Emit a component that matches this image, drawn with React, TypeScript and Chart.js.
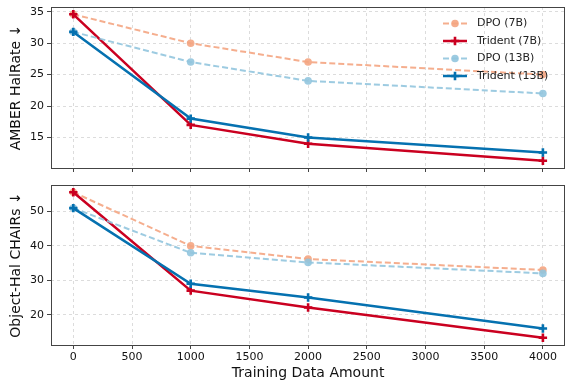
import React, { useEffect, useRef } from 'react';
import { Chart, registerables } from 'chart.js';

Chart.register(...registerables);

const xValues = [0, 1000, 2000, 4000];
const xTicks = [0, 500, 1000, 1500, 2000, 2500, 3000, 3500, 4000];

const seriesLabels = ['DPO (7B)', 'Trident (7B)', 'DPO (13B)', 'Trident (13B)'];

const amberDpo7 = [34.6, 30, 27, 25];
const amberTrident7 = [34.6, 17, 14, 11.3];
const amberDpo13 = [31.8, 27, 24, 22];
const amberTrident13 = [31.8, 18, 15, 12.6];
const amberTicks = [15, 20, 25, 30, 35];

const chairDpo7 = [55.6, 40, 36.2, 33];
const chairTrident7 = [55.6, 27, 22.1, 13.3];
const chairDpo13 = [51, 38, 35.2, 32];
const chairTrident13 = [51, 29, 25, 16];
const chairTicks = [20, 30, 40, 50];

const FONT = 'DejaVu Sans';
const colors = ['rgba(244,165,130,0.9)', '#ca0020', 'rgba(146,197,222,0.9)', '#0571b0'];
const dashed = [true, false, true, false];

function mkDatasets(series: number[][]) {
  return series.map((vals, i) => ({
    label: seriesLabels[i],
    data: xValues.map((x, j) => ({ x, y: vals[j] })),
    borderColor: colors[i],
    backgroundColor: colors[i],
    borderWidth: dashed[i] ? 2 : 2.5,
    borderDash: dashed[i] ? [6, 3] : [],
    pointStyle: dashed[i] ? 'circle' : 'cross',
    pointRadius: dashed[i] ? 3.8 : 4.2,
    pointBorderWidth: dashed[i] ? 0 : 2.6,
    pointBackgroundColor: colors[i],
    pointBorderColor: colors[i],
    order: 3 - i,
    tension: 0,
    fill: false,
  }));
}

const framePlugin = {
  id: 'frame',
  afterDraw(chart: any) {
    const { ctx, chartArea: a } = chart;
    ctx.save();
    ctx.strokeStyle = '#444';
    ctx.lineWidth = 1;
    ctx.setLineDash([]);
    ctx.strokeRect(Math.round(a.left) + 0.5, Math.round(a.top) + 0.5, Math.round(a.right - a.left) - 1, Math.round(a.bottom - a.top));
    ctx.restore();
  },
};

const legendPlugin = {
  id: 'customLegend',
  afterDraw(chart: any) {
    const { ctx } = chart;
    ctx.save();
    const x0 = 443, x1 = 467, mx = 455, tx = 477;
    const ys = [23.5, 41, 58.5, 76];
    seriesLabels.forEach((lab, i) => {
      const y = ys[i];
      ctx.strokeStyle = colors[i];
      ctx.lineWidth = dashed[i] ? 2 : 2.5;
      ctx.setLineDash(dashed[i] ? [6, 3] : []);
      ctx.beginPath();
      ctx.moveTo(x0, y);
      ctx.lineTo(x1, y);
      ctx.stroke();
      ctx.setLineDash([]);
      ctx.fillStyle = colors[i];
      if (dashed[i]) {
        ctx.beginPath();
        ctx.arc(mx, y, 3.8, 0, Math.PI * 2);
        ctx.fill();
      } else {
        ctx.lineWidth = 2.6;
        ctx.beginPath();
        ctx.moveTo(mx - 4.2, y);
        ctx.lineTo(mx + 4.2, y);
        ctx.moveTo(mx, y - 4.2);
        ctx.lineTo(mx, y + 4.2);
        ctx.stroke();
      }
      ctx.fillStyle = '#222';
      ctx.font = `11px "${FONT}"`;
      ctx.textBaseline = 'middle';
      ctx.textAlign = 'left';
      ctx.fillText(lab, tx, y);
    });
    ctx.restore();
  },
};

function zeroPad(s: any) {
  s.paddingLeft = 0; s.paddingRight = 0; s.paddingTop = 0; s.paddingBottom = 0;
}

function makeConfig(series: number[][], yMin: number, yMax: number, yTicks: number[], yTitle: string, showX: boolean, padTop: number, xHeight: number, legend: boolean) {
  return {
    type: 'line' as const,
    data: { datasets: mkDatasets(series) },
    plugins: legend ? [framePlugin, legendPlugin] : [framePlugin],
    options: {
      animation: false,
      responsive: false,
      devicePixelRatio: 1,
      layout: { padding: { top: padTop, right: 0, left: 0, bottom: 0 } },
      plugins: { legend: { display: false }, tooltip: { enabled: false } },
      scales: {
        x: {
          type: 'linear',
          min: -190,
          max: 4190,
          afterBuildTicks: (s: any) => { s.ticks = xTicks.map(v => ({ value: v })); },
          afterFit: (s: any) => { s.height = xHeight; zeroPad(s); },
          grid: {
            color: 'rgba(200,200,200,0.8)',
            lineWidth: 0.8,
            drawTicks: true,
            tickLength: 4,
            tickColor: '#444',
            tickWidth: 1,
            tickBorderDash: [],
          },
          border: { display: false, dash: [3, 3] },
          ticks: {
            display: showX,
            color: '#111',
            font: { family: FONT, size: 11 },
            padding: 2,
            maxRotation: 0,
            autoSkip: false,
            callback: (v: any) => String(v),
          },
          title: {
            display: showX,
            text: 'Training Data Amount',
            color: '#111',
            font: { family: FONT, size: 14 },
            padding: { top: 0, bottom: 3 },
          },
        },
        y: {
          type: 'linear',
          min: yMin,
          max: yMax,
          afterBuildTicks: (s: any) => { s.ticks = yTicks.map(v => ({ value: v })); },
          afterFit: (s: any) => { s.width = 51; zeroPad(s); },
          grid: {
            color: 'rgba(200,200,200,0.8)',
            lineWidth: 0.8,
            drawTicks: true,
            tickLength: 4,
            tickColor: '#444',
            tickWidth: 1,
            tickBorderDash: [],
          },
          border: { display: false, dash: [3, 3] },
          ticks: {
            color: '#111',
            font: { family: FONT, size: 11 },
            padding: 3,
            callback: (v: any) => String(v),
          },
          title: {
            display: true,
            text: yTitle,
            color: '#111',
            font: { family: FONT, size: 14 },
            padding: { top: 8, bottom: 0 },
          },
        },
      },
    },
  };
}

function Panel(props: { cfg: any; width: number; height: number; top: number }) {
  const ref = useRef<HTMLCanvasElement>(null);
  useEffect(() => {
    if (!ref.current) return;
    const chart = new Chart(ref.current, props.cfg);
    return () => chart.destroy();
  }, []);
  return (
    <canvas
      ref={ref}
      width={props.width}
      height={props.height}
      style={{ position: 'absolute', left: 0, top: props.top, width: props.width, height: props.height }}
    />
  );
}

export default function App() {
  const topCfg = makeConfig(
    [amberDpo7, amberTrident7, amberDpo13, amberTrident13],
    10.135, 35.765, amberTicks, 'AMBER HalRate ↓', false, 7, 8, true
  );
  const botCfg = makeConfig(
    [chairDpo7, chairTrident7, chairDpo13, chairTrident13],
    11.185, 57.715, chairTicks, 'Object-Hal CHAIRs ↓', true, 9, 40, false
  );
  return (
    <div style={{ position: 'absolute', left: 0, top: 0, width: 566, height: 385, overflow: 'hidden', background: '#fff' }}>
      <Panel cfg={topCfg} width={572} height={176} top={0} />
      <Panel cfg={botCfg} width={572} height={209} top={176} />
    </div>
  );
}
